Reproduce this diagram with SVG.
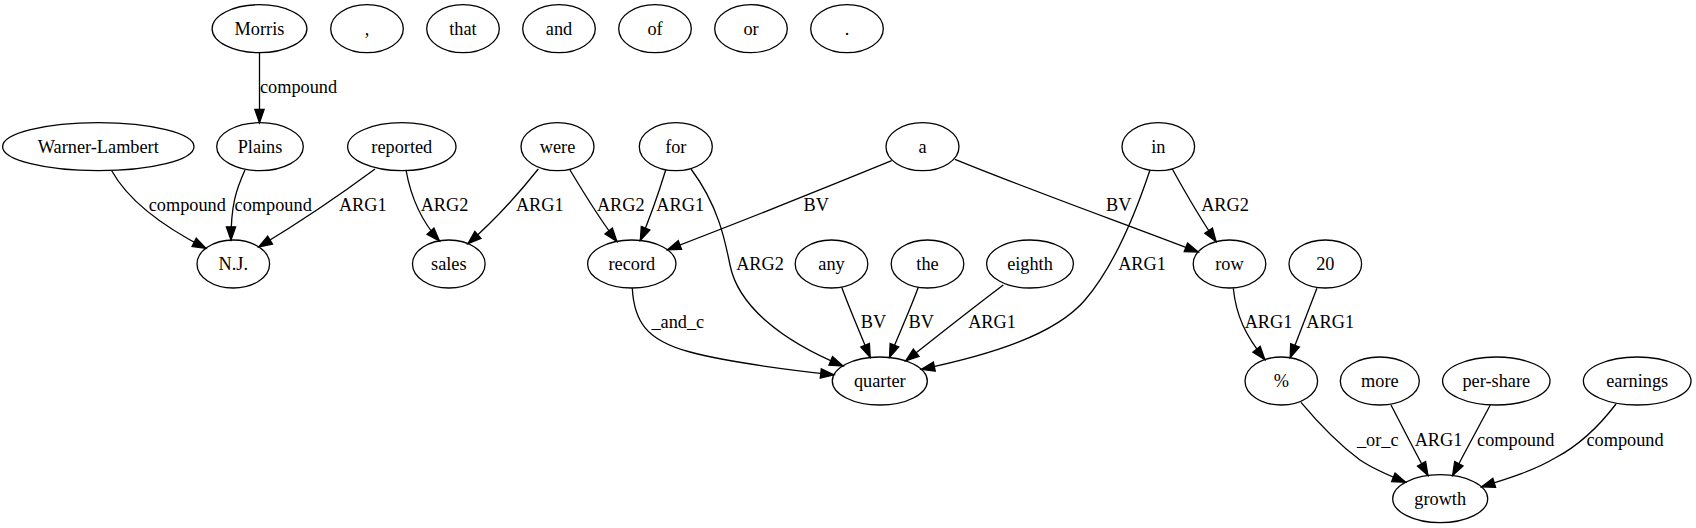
<svg xmlns="http://www.w3.org/2000/svg" width="1696" height="528" viewBox="0 0 1696 528">
<style>
.n ellipse{fill:none;stroke:#000;stroke-width:1.3}
text{font-family:'Liberation Serif','Times New Roman',Times,serif;font-size:18.3px;fill:#000;text-anchor:middle}
.e path{fill:none;stroke:#000;stroke-width:1.3;marker-end:url(#ah)}
</style>
<defs>
<marker id="ah" markerUnits="userSpaceOnUse" markerWidth="16" markerHeight="12" refX="13.3" refY="4.67" orient="auto" overflow="visible">
<path d="M0,0 L13.3,4.67 L0,9.33 z" fill="#000" stroke="#000" stroke-width="1.3"/>
</marker>
</defs>
<rect width="1696" height="528" fill="#fff"/>
<g id="nodes" class="n" font-family="Liberation Serif, serif">
<g id="n-Morris"><ellipse cx="259.5" cy="28.7" rx="47.4" ry="24"/><text x="259.5" y="34.7">Morris</text></g>
<g id="n-comma"><ellipse cx="367" cy="28.7" rx="36.3" ry="24"/><text x="367" y="34.7">,</text></g>
<g id="n-that"><ellipse cx="463" cy="28.7" rx="36.3" ry="24"/><text x="463" y="34.7">that</text></g>
<g id="n-and"><ellipse cx="559" cy="28.7" rx="36.3" ry="24"/><text x="559" y="34.7">and</text></g>
<g id="n-of"><ellipse cx="655" cy="28.7" rx="36.3" ry="24"/><text x="655" y="34.7">of</text></g>
<g id="n-or"><ellipse cx="751" cy="28.7" rx="36.3" ry="24"/><text x="751" y="34.7">or</text></g>
<g id="n-period"><ellipse cx="847" cy="28.7" rx="36.3" ry="24"/><text x="847" y="34.7">.</text></g>
<g id="n-WarnerLambert"><ellipse cx="98.3" cy="146.7" rx="95.7" ry="24"/><text x="98.3" y="152.7">Warner-Lambert</text></g>
<g id="n-Plains"><ellipse cx="260" cy="146.7" rx="43.3" ry="24"/><text x="260" y="152.7">Plains</text></g>
<g id="n-reported"><ellipse cx="401.8" cy="146.7" rx="54.2" ry="24"/><text x="401.8" y="152.7">reported</text></g>
<g id="n-were"><ellipse cx="557.5" cy="146.7" rx="36.5" ry="24"/><text x="557.5" y="152.7">were</text></g>
<g id="n-for"><ellipse cx="675.8" cy="146.7" rx="36.5" ry="24"/><text x="675.8" y="152.7">for</text></g>
<g id="n-a"><ellipse cx="922.5" cy="146.7" rx="36.5" ry="24"/><text x="922.5" y="152.7">a</text></g>
<g id="n-in"><ellipse cx="1158.3" cy="146.7" rx="36.3" ry="24"/><text x="1158.3" y="152.7">in</text></g>
<g id="n-NJ"><ellipse cx="233.3" cy="264" rx="36.3" ry="24"/><text x="233.3" y="270">N.J.</text></g>
<g id="n-sales"><ellipse cx="448.8" cy="264" rx="36.3" ry="24"/><text x="448.8" y="270">sales</text></g>
<g id="n-record"><ellipse cx="631.8" cy="264" rx="44.2" ry="24"/><text x="631.8" y="270">record</text></g>
<g id="n-any"><ellipse cx="831.5" cy="264" rx="36.3" ry="24"/><text x="831.5" y="270">any</text></g>
<g id="n-the"><ellipse cx="927.5" cy="264" rx="36.3" ry="24"/><text x="927.5" y="270">the</text></g>
<g id="n-eighth"><ellipse cx="1030" cy="264" rx="43.4" ry="24"/><text x="1030" y="270">eighth</text></g>
<g id="n-row"><ellipse cx="1229.5" cy="264" rx="36.3" ry="24"/><text x="1229.5" y="270">row</text></g>
<g id="n-20"><ellipse cx="1325.3" cy="264" rx="36.3" ry="24"/><text x="1325.3" y="270">20</text></g>
<g id="n-quarter"><ellipse cx="879.8" cy="381" rx="47.5" ry="24"/><text x="879.8" y="387">quarter</text></g>
<g id="n-percent"><ellipse cx="1281.3" cy="381" rx="36.3" ry="24"/><text x="1281.3" y="387">%</text></g>
<g id="n-more"><ellipse cx="1379.8" cy="381" rx="39.5" ry="24"/><text x="1379.8" y="387">more</text></g>
<g id="n-pershare"><ellipse cx="1496.3" cy="381" rx="53.7" ry="24"/><text x="1496.3" y="387">per-share</text></g>
<g id="n-earnings"><ellipse cx="1637.2" cy="381" rx="53.8" ry="24"/><text x="1637.2" y="387">earnings</text></g>
<g id="n-growth"><ellipse cx="1440.2" cy="498.7" rx="47.5" ry="24"/><text x="1440.2" y="504.7">growth</text></g>
</g>
<g id="edges" class="e">
<path d="M259.5,52.7 L259.5,122.7"/>
<path d="M111.7,170.7 C128,200 160,225 206,248.4"/>
<path d="M245,170 C236,190 231,205 231,240.1"/>
<path d="M375,169 C340,195 300,222 258.7,247"/>
<path d="M406,170 C411,198 422,222 439.5,241"/>
<path d="M538.3,169 C520,192 495,220 467.9,243.7"/>
<path d="M570,170 C585,195 600,220 616.9,241.4"/>
<path d="M665.7,170 C658,195 650,218 640.3,240.4"/>
<path d="M691,169 C718,205 725,240 730,265 C738,305 780,340 843,366"/>
<path d="M891.7,160.7 C820,190 740,222 667.5,249.8"/>
<path d="M955,159.3 C1030,190 1120,222 1198.3,252.1"/>
<path d="M1172.3,169 C1185,192 1200,218 1216.1,241.7"/>
<path d="M1150,170 C1135,215 1115,265 1085,300 C1055,335 990,355 921.3,369.3"/>
<path d="M632.3,288.3 C634,320 645,340 690,352 C730,363 790,370 834,374.9"/>
<path d="M841.7,287.3 C850,310 860,333 870.2,357.5"/>
<path d="M918.3,287.3 C910,310 899,334 889.5,357.5"/>
<path d="M1003.3,285 C970,310 935,338 905.7,360.9"/>
<path d="M1233.3,288.3 C1236,315 1245,335 1264.9,359.6"/>
<path d="M1316.9,288.3 C1308,312 1299,335 1290.2,357.7"/>
<path d="M1301,402.3 C1320,425 1340,445 1360,460 C1375,470 1390,476 1405.7,482.2"/>
<path d="M1391,405 C1403,428 1415,452 1428,475.5"/>
<path d="M1490.3,405 C1478,428 1465,452 1452.6,475.5"/>
<path d="M1616,404 C1600,425 1580,445 1555,458 C1535,470 1510,478 1481.5,486.8"/>
</g>
<g id="edge-labels" font-family="Liberation Serif, serif">
<text x="298.5" y="93">compound</text>
<text x="187.3" y="210.5">compound</text>
<text x="273.2" y="210.5">compound</text>
<text x="362.8" y="210.5">ARG1</text>
<text x="444.5" y="210.5">ARG2</text>
<text x="539.8" y="210.5">ARG1</text>
<text x="620.8" y="210.5">ARG2</text>
<text x="680.2" y="210.5">ARG1</text>
<text x="816.2" y="210.5">BV</text>
<text x="1118.7" y="210.5">BV</text>
<text x="1225" y="210.5">ARG2</text>
<text x="760" y="269.5">ARG2</text>
<text x="1142" y="269.5">ARG1</text>
<text x="677.8" y="328.3">_and_c</text>
<text x="873.5" y="328.3">BV</text>
<text x="921.3" y="328.3">BV</text>
<text x="992" y="328.3">ARG1</text>
<text x="1268.5" y="328.3">ARG1</text>
<text x="1330.2" y="328.3">ARG1</text>
<text x="1377.7" y="445.7">_or_c</text>
<text x="1438.5" y="445.7">ARG1</text>
<text x="1515.7" y="445.7">compound</text>
<text x="1625" y="445.7">compound</text>
</g>
</svg>
